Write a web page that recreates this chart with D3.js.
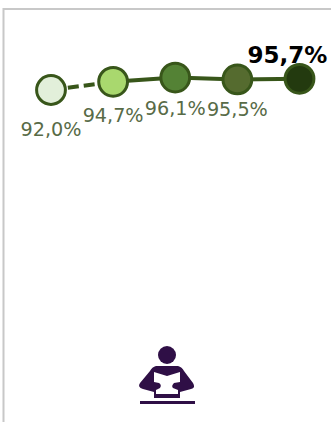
<!DOCTYPE html>
<html><head><meta charset="utf-8">
<script src="https://cdn.jsdelivr.net/npm/d3@7"></script>
<style>html,body{margin:0;padding:0;background:#fff}svg{display:block}text{font-family:"DejaVu Sans",sans-serif}</style>
</head><body>
<div id="chart"></div>
<script>
const categories = ["A","B","C","D","E"];
const values = [92.0,94.7,96.1,95.5,95.7];
const labels = ["92,0%","94,7%","96,1%","95,5%","95,7%"];
const fills = ["#e2efda","#a9d86e","#548235","#556b2f","#233a0f"];
const W=331,H=422;
const svg=d3.select("#chart").append("svg").attr("width",W).attr("height",H);
const x=d3.scalePoint().domain(categories).range([51,299.5]);
const y=d3.scaleLinear().domain([92,96.1]).range([90,77.6]);
// frame
svg.append("path").attr("d","M3.5,422V9H331").attr("fill","none").attr("stroke","#c8c8c8").attr("stroke-width",2);
const stroke="#38561a";
// line segments
const line=d3.line().x(d=>x(d.c)).y(d=>y(d.v));
const pts=categories.map((c,i)=>({c,v:values[i],l:labels[i],f:fills[i],i}));
svg.append("path").attr("d",line(pts.slice(0,2))).attr("fill","none").attr("stroke",stroke).attr("stroke-width",4).attr("stroke-dasharray","11 5").attr("stroke-dashoffset",-1);
svg.append("path").attr("d",line(pts.slice(1))).attr("fill","none").attr("stroke",stroke).attr("stroke-width",4);
svg.selectAll("circle.m").data(pts).join("circle").attr("class","m")
 .attr("cx",d=>x(d.c)).attr("cy",d=>y(d.v)).attr("r",14.4).attr("fill",d=>d.f).attr("stroke",stroke).attr("stroke-width",3);
// labels
const baselines=[136,122,115,116];
svg.selectAll("text.l").data(pts.slice(0,4)).join("text").attr("class","l")
 .attr("x",d=>x(d.c)).attr("y",d=>baselines[d.i]).attr("text-anchor","middle")
 .attr("font-size",19.2).attr("fill","#586b47").text(d=>d.l);
svg.append("text").attr("x",x("E")-12).attr("y",63).attr("text-anchor","middle")
 .attr("font-size",23).attr("font-weight","bold").attr("fill","#000").text(labels[4]);
// reader icon
const g=svg.append("g").attr("fill","#2f0f46");
g.append("circle").attr("cx",167).attr("cy",355).attr("r",9);
g.append("path").attr("d","M156,366 L178,366 Q182,367 184,371 L193,383 Q196,388 191,389 L180,392 L180,398 L154,398 L154,392 L143,389 Q137,387 140,383 L150,371 Q152,367 156,366Z");
g.append("path").attr("fill","#fff").attr("d","M154,372 L167,376 L180,372 L180,382 L174,383 Q171,386 173,388 L178,390 L178,394 L156,394 L156,390 L160,388 Q162,385 159,383 L154,382Z");
g.append("rect").attr("x",140).attr("y",401).attr("width",55).attr("height",3);
</script>
</body></html>
